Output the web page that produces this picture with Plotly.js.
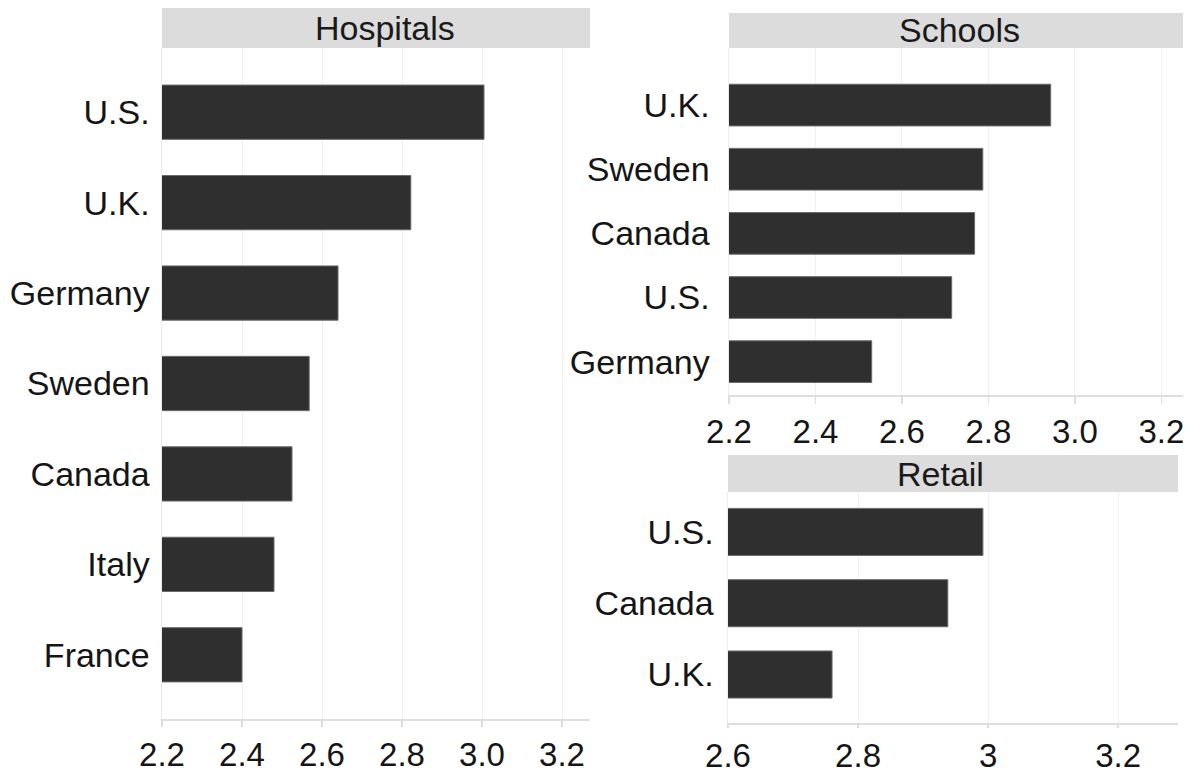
<!DOCTYPE html>
<html><head><meta charset="utf-8">
<script src="https://cdn.plot.ly/plotly-3.0.1.min.js"></script>
<style>html,body{margin:0;padding:0;background:#fff}#chart{width:1194px;height:774px}</style>
</head><body><div id="chart"></div>
<script>
// Data
const hospitalCountries = ["U.S.", "U.K.", "Germany", "Sweden", "Canada", "Italy", "France"];
const hospitalValues    = [3.005, 2.822, 2.64, 2.568, 2.525, 2.48, 2.40];
const schoolCountries   = ["U.K.", "Sweden", "Canada", "U.S.", "Germany"];
const schoolValues      = [2.944, 2.787, 2.768, 2.715, 2.530];
const retailCountries   = ["U.S.", "Canada", "U.K."];
const retailValues      = [2.992, 2.938, 2.760];
const panelTitles       = ["Hospitals", "Schools", "Retail"];
const hospitalTicks     = [2.2, 2.4, 2.6, 2.8, 3.0, 3.2];
const schoolTicks       = [2.2, 2.4, 2.6, 2.8, 3.0, 3.2];
const retailTicks       = [2.6, 2.8, 3.0, 3.2];
const retailTickText    = ["2.6", "2.8", "3", "3.2"];

const W = 1194, H = 774;
const px = v => v / W, py = v => 1 - v / H;
const FONT = "Liberation Sans, Arial, sans-serif";
const barColor = "#2f2f2f";

function bar(x, y, xa, ya, width) {
  return {type: "bar", orientation: "h", x: x, y: y, xaxis: xa, yaxis: ya,
    width: width, base: 0,
    marker: {color: barColor, line: {color: "#6a6a6a", width: 1}},
    hoverinfo: "x+y", showlegend: false};
}

const data = [
  bar(hospitalValues, hospitalCountries, "x", "y", 0.6),
  bar(schoolValues, schoolCountries, "x2", "y2", 0.65),
  bar(retailValues, retailCountries, "x3", "y3", 0.66)
];

const xFont = {family: FONT, size: 33, color: "#151515"};
const yFont = {family: FONT, size: 34, color: "#151515"};
function xaxis(domain, range, anchor, tickvals, ticktext, ticklen) {
  const a = {domain: domain, range: range, anchor: anchor,
    tickvals: tickvals, showgrid: true, gridcolor: "#f1f1f1", gridwidth: 1,
    showline: true, linecolor: "#dedede", linewidth: 1.5,
    ticks: "outside", ticklen: ticklen, tickcolor: "#dedede", tickwidth: 1.5,
    tickfont: xFont, zeroline: false, fixedrange: true};
  if (ticktext) a.ticktext = ticktext; else a.tickformat = ".1f";
  return a;
}
function yaxis(domain, cats, range, anchor, ticklen) {
  return {domain: domain, type: "category", categoryorder: "array", categoryarray: cats,
    range: range, anchor: anchor, showgrid: false, zeroline: false,
    showline: true, linecolor: "#ececec", linewidth: 1.5,
    ticks: "outside", ticklen: ticklen, tickcolor: "rgba(0,0,0,0)",
    tickfont: yFont, fixedrange: true};
}

// panel pixel boxes
const P = {
  hosp: {x0: 162, x1: 590, y0: 48, y1: 719, s0: 8, dx: 9},
  sch:  {x0: 729, x1: 1183, y0: 48, y1: 395, s0: 13, dx: 3},
  ret:  {x0: 728, x1: 1178, y0: 492, y1: 723, s0: 455, dx: -12}
};

const layout = {
  width: W, height: H, margin: {l: 0, r: 0, t: 0, b: 0},
  paper_bgcolor: "#fff", plot_bgcolor: "#fff",
  font: {family: FONT, color: "#151515"},
  bargap: 0,
  xaxis:  xaxis([px(P.hosp.x0), px(P.hosp.x1)], [2.2, 3.27], "y", hospitalTicks, null, 6),
  yaxis:  yaxis([py(P.hosp.y1), py(P.hosp.y0)], hospitalCountries, [6.71, -0.71], "x", 4),
  xaxis2: xaxis([px(P.sch.x0), px(P.sch.x1)], [2.2, 3.25], "y2", schoolTicks, null, 7),
  yaxis2: yaxis([py(P.sch.y1), py(P.sch.y0)], schoolCountries, [4.52, -0.89], "x2", 11),
  xaxis3: xaxis([px(P.ret.x0), px(P.ret.x1)], [2.6, 3.292], "y3", retailTicks, retailTickText, 3),
  yaxis3: yaxis([py(P.ret.y1), py(P.ret.y0)], retailCountries, [2.68, -0.56], "x3", 6),
  shapes: [], annotations: []
};

[["hosp", 0], ["sch", 1], ["ret", 2]].forEach(([k, i]) => {
  const p = P[k];
  layout.shapes.push({type: "rect", xref: "paper", yref: "paper",
    x0: px(p.x0), x1: px(p.x1), y0: py(p.y0), y1: py(p.s0),
    fillcolor: "#dcdcdc", line: {width: 0}, layer: "below"});
  layout.annotations.push({xref: "paper", yref: "paper",
    x: (px(p.x0) + px(p.x1)) / 2 + p.dx / W, y: (py(p.y0) + py(p.s0)) / 2,
    xanchor: "center", yanchor: "middle", showarrow: false,
    text: panelTitles[i], font: {family: FONT, size: 34, color: "#1a1a1a"}});
});

Plotly.newPlot("chart", data, layout, {displayModeBar: false, staticPlot: true});
</script>
</body></html>
